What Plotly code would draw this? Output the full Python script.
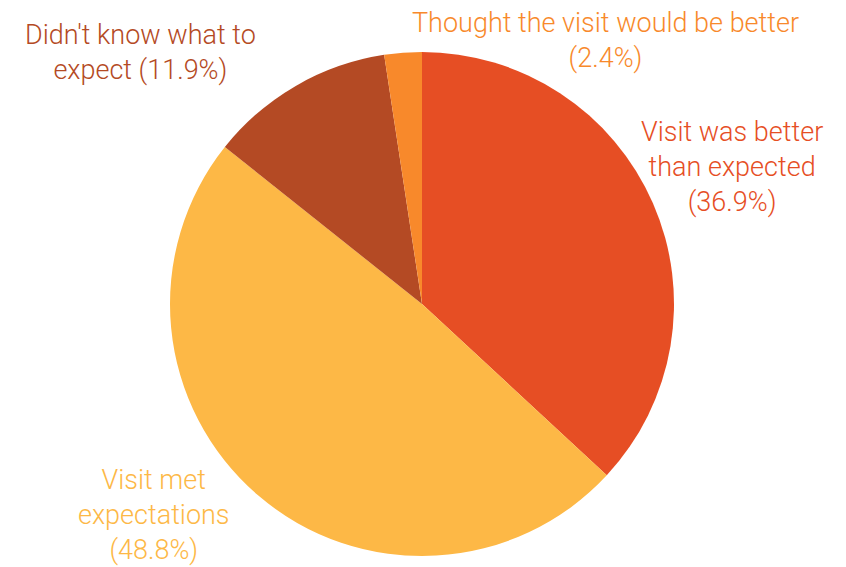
import plotly.graph_objects as go

# ─── Data ───────────────────────────────────────────────────────────────────
labels = [
    "Visit was better than expected",
    "Visit met expectations",
    "Didn't know what to expect",
    "Thought the visit would be better",
]
values = [36.9, 48.8, 11.9, 2.4]
colors = ["#E64E24", "#FDB846", "#B44A24", "#F8892B"]

# label text as shown on the chart (line breaks included)
label_text = [
    "Visit was better<br>than expected<br>(36.9%)",
    "Visit met<br>expectations<br>(48.8%)",
    "Didn't know what to<br>expect (11.9%)",
    "Thought the visit would be better<br>(2.4%)",
]

FONT = "Roboto, sans-serif"
W, H = 846, 567
OFF = 8  # page body margin


def px2paper(px_, py_):
    return (px_ - OFF) / W, 1 - (py_ - OFF) / H


# pie centre / radius in window pixels
CX, CY, R = 422, 304, 252
x0, y1 = px2paper(CX - R, CY - R)
x1, y0 = px2paper(CX + R, CY + R)

fig = go.Figure()
fig.add_trace(go.Pie(
    labels=labels,
    values=values,
    marker=dict(colors=colors, line=dict(width=0)),
    sort=False,
    direction="clockwise",
    rotation=0,
    textinfo="none",
    hoverinfo="label+percent",
    showlegend=False,
    domain=dict(x=[x0, x1], y=[y0, y1]),
))

# label placement (window pixel centres)
label_pos = [(732, 167), (154, 515), (140, 53), (605, 40)]
for txt, col, (px_, py_) in zip(label_text, colors, label_pos):
    ax, ay = px2paper(px_, py_)
    fig.add_annotation(
        x=ax, y=ay, xref="paper", yref="paper",
        text=txt, showarrow=False, align="center",
        xanchor="center", yanchor="middle",
        font=dict(family=FONT, size=27, color=col, weight=300),
    )

fig.update_layout(
    width=W, height=H,
    margin=dict(l=0, r=0, t=0, b=0),
    paper_bgcolor="white",
    plot_bgcolor="white",
)

fig.write_html("out.html")
